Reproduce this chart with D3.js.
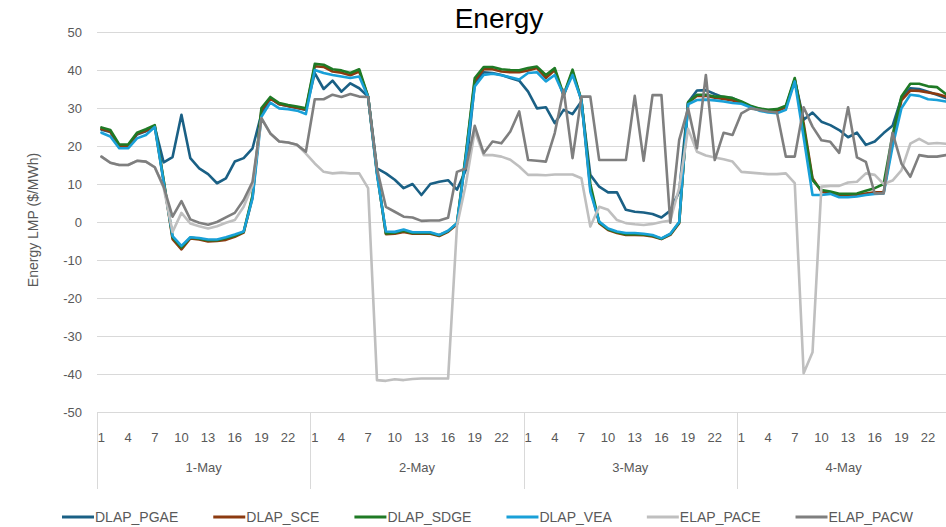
<!DOCTYPE html>
<html>
<head>
<meta charset="utf-8">
<script src="https://cdn.jsdelivr.net/npm/d3@7"></script>
<style>
  html, body { margin: 0; padding: 0; background: #fff; overflow: hidden; }
  svg { display: block; }
</style>
</head>
<body>
<svg id="chart" width="1000" height="527"></svg>
<script>
// ---------------- DATA ----------------
const days = ["1-May", "2-May", "3-May", "4-May"];
const hours = d3.range(1, 25);
const hourLabels = [1, 4, 7, 10, 13, 16, 19, 22];
const yTicks = [-50, -40, -30, -20, -10, 0, 10, 20, 30, 40, 50];
const seriesNames = ["DLAP_PGAE", "DLAP_SCE", "DLAP_SDGE", "DLAP_VEA", "ELAP_PACE", "ELAP_PACW"];
const seriesColors = ["#1a6085", "#8c3a10", "#1f7a25", "#19a0d8", "#bfbfbf", "#7f7f7f"];

const DLAP_PGAE = [
  24.3, 23.7, 19.8, 19.8, 23.0, 23.9, 25.0, 15.7, 17.1, 28.2, 16.8, 14.1, 12.6, 10.2, 11.5, 15.9, 16.8, 19.4, 28.5, 32.5, 31.0, 30.5, 30.0, 29.5,
  39.2, 35.0, 37.2, 34.3, 36.5, 35.2, 33.0, 14.1, 12.8, 11.1, 8.9, 10.0, 7.1, 10.0, 10.6, 11.0, 8.5, 13.7, 36.5, 39.4, 39.2, 38.7, 37.9, 37.2,
  34.3, 29.9, 30.2, 26.0, 29.5, 28.4, 31.7, 12.4, 9.3, 7.8, 7.8, 3.2, 2.7, 2.5, 2.1, 1.2, 3.0, 8.0, 31.5, 34.6, 34.7, 33.7, 32.8, 32.6,
  31.5, 30.4, 29.7, 29.3, 29.3, 30.3, 37.5, 26.9, 28.8, 26.4, 25.5, 24.2, 22.3, 23.5, 20.3, 21.2, 23.4, 25.3, 32.6, 35.2, 35.0, 34.3, 33.5, 32.6
];
const DLAP_SCE = [
  24.5, 23.8, 20.0, 20.0, 23.2, 24.0, 25.2, 10.8, -4.5, -7.2, -4.3, -4.6, -5.1, -5.0, -4.7, -3.9, -2.8, 6.5, 29.5, 32.5, 31.0, 30.5, 30.1, 29.6,
  41.0, 40.8, 39.6, 39.3, 38.6, 39.6, 33.0, 13.0, -3.2, -3.1, -2.6, -3.1, -3.1, -3.1, -3.7, -2.6, -0.6, 17.5, 37.2, 40.2, 40.2, 39.6, 39.4, 39.4,
  39.9, 40.5, 37.9, 40.0, 33.2, 39.6, 32.0, 9.0, -0.3, -2.1, -2.9, -3.4, -3.4, -3.5, -3.8, -4.5, -3.4, -0.3, 31.3, 33.2, 33.2, 32.7, 32.4, 32.0,
  31.4, 30.3, 29.6, 29.2, 29.2, 30.2, 37.4, 26.0, 11.5, 8.0, 7.6, 7.0, 7.0, 7.1, 7.5, 7.8, 7.8, 21.0, 32.0, 34.6, 34.5, 34.1, 33.7, 33.0
];
const DLAP_SDGE = [
  24.9, 24.2, 20.4, 20.4, 23.5, 24.4, 25.5, 11.0, -4.0, -6.7, -4.1, -4.4, -4.8, -4.8, -4.3, -3.6, -2.6, 7.0, 30.0, 32.9, 31.3, 30.8, 30.4, 29.9,
  41.6, 41.4, 40.2, 39.9, 39.2, 40.2, 33.0, 13.0, -3.0, -2.8, -2.3, -2.9, -2.9, -2.9, -3.5, -2.4, -0.3, 18.0, 37.9, 40.8, 40.8, 40.2, 40.0, 39.9,
  40.5, 40.9, 38.7, 40.5, 33.5, 40.1, 32.1, 10.0, -0.1, -1.9, -2.7, -3.2, -3.2, -3.3, -3.6, -4.4, -3.2, -0.1, 31.5, 33.5, 33.5, 33.0, 33.0, 32.6,
  31.7, 30.6, 29.9, 29.5, 29.7, 30.6, 37.9, 25.0, 11.0, 8.4, 8.0, 7.4, 7.4, 7.5, 8.2, 8.9, 10.0, 22.9, 33.0, 36.4, 36.4, 35.7, 35.5, 33.7
];
const DLAP_VEA = [
  23.5, 22.5, 19.4, 19.4, 22.0, 22.9, 25.0, 10.5, -3.7, -6.3, -4.0, -4.2, -4.6, -4.6, -4.0, -3.3, -2.5, 6.2, 27.7, 31.4, 29.9, 29.7, 29.3, 28.4,
  40.0, 39.2, 38.7, 38.3, 37.9, 38.3, 32.9, 12.5, -2.5, -2.6, -2.0, -2.7, -2.7, -2.7, -3.4, -2.3, -0.3, 17.0, 35.7, 38.7, 39.0, 38.6, 38.1, 37.5,
  39.2, 39.4, 37.0, 38.7, 33.5, 38.7, 32.1, 8.0, 0.1, -1.7, -2.5, -2.9, -2.9, -3.1, -3.4, -4.3, -3.1, 0.0, 31.0, 32.1, 32.2, 32.0, 31.7, 31.3,
  31.1, 30.2, 29.3, 28.8, 28.6, 29.5, 37.0, 22.3, 7.1, 7.1, 7.4, 6.5, 6.5, 6.7, 7.1, 7.4, 7.5, 19.8, 29.9, 33.5, 33.2, 32.3, 32.1, 31.7
];
const ELAP_PACE = [
  17.2, 15.6, 15.0, 15.0, 16.1, 15.9, 14.4, 9.0, -2.6, 2.4, -0.4, -1.1, -1.7, -1.1, -0.2, 0.5, 4.0, 9.7, 27.3, 23.3, 21.2, 20.9, 20.3, 18.0,
  15.4, 13.2, 12.8, 13.0, 12.8, 12.8, 8.9, -41.6, -41.8, -41.4, -41.6, -41.3, -41.2, -41.2, -41.2, -41.2, -1.0, 10.0, 24.0, 17.6, 17.6, 17.2, 16.4, 14.6,
  12.4, 12.4, 12.3, 12.5, 12.5, 12.5, 11.5, -1.2, 4.0, 3.2, 0.5, -0.3, -0.6, -0.8, -0.5, 0.0, 0.4, 9.0, 24.5, 18.5, 17.5, 17.0, 16.5, 15.9,
  13.2, 13.0, 12.8, 12.6, 12.6, 12.8, 10.2, -39.8, -34.3, 9.3, 9.5, 9.5, 10.4, 10.6, 12.8, 12.4, 10.0, 10.9, 13.6, 20.6, 21.9, 20.6, 20.8, 20.6
];
const ELAP_PACW = [
  17.2, 15.6, 15.0, 15.0, 16.1, 15.9, 14.4, 9.3, 1.4, 5.5, 0.7, -0.2, -0.7, 0.0, 1.2, 2.4, 5.8, 10.6, 27.3, 23.3, 21.2, 20.9, 20.3, 18.5,
  32.3, 32.3, 33.5, 32.9, 33.7, 33.0, 32.9, 14.0, 4.0, 2.7, 1.4, 1.2, 0.3, 0.4, 0.4, 1.1, 13.2, 14.1, 25.3, 18.1, 21.2, 20.7, 23.8, 29.1,
  16.3, 16.1, 15.9, 23.4, 34.8, 16.8, 33.0, 33.0, 16.3, 16.3, 16.3, 16.3, 33.2, 16.1, 33.4, 33.4, -0.2, 21.6, 29.9, 19.4, 38.7, 16.3, 23.5, 22.9,
  28.6, 29.9, 29.5, 29.1, 28.8, 17.2, 17.2, 30.2, 25.1, 21.5, 21.1, 18.2, 30.2, 17.0, 15.8, 7.5, 7.5, 23.5, 15.4, 11.9, 17.6, 17.2, 17.2, 17.6
];
const seriesValues = [DLAP_PGAE, DLAP_SCE, DLAP_SDGE, DLAP_VEA, ELAP_PACE, ELAP_PACW];

// ---------------- LAYOUT ----------------
const svg = d3.select("#chart");
const plotL = 97, plotR = 950.3, plotT = 32, plotB = 412;
const FONT = "'Liberation Sans', Arial, sans-serif";
const TXT = "#595959";

const cats = [];
days.forEach((d, di) => hours.forEach(h => cats.push({ key: di * 24 + (h - 1), day: d, hour: h })));

const x = d3.scaleBand().domain(cats.map(c => c.key)).range([plotL, plotR]).padding(0);
const y = d3.scaleLinear().domain([-50, 50]).range([plotB, plotT]);
const cx = k => x(k) + x.bandwidth() / 2;

// gridlines
svg.append("g").selectAll("line").data(yTicks).join("line")
  .attr("x1", plotL).attr("x2", plotR)
  .attr("y1", d => Math.round(y(d)) + 0.5).attr("y2", d => Math.round(y(d)) + 0.5)
  .attr("stroke", "#d9d9d9").attr("stroke-width", 1);

// y tick labels
svg.append("g").selectAll("text").data(yTicks).join("text")
  .attr("x", 82).attr("y", d => y(d)).attr("dy", "0.35em")
  .attr("text-anchor", "end").attr("font-family", FONT).attr("font-size", 13)
  .attr("fill", TXT).text(d => d);

// hour labels
svg.append("g").selectAll("text").data(cats.filter(c => hourLabels.includes(c.hour))).join("text")
  .attr("x", c => cx(c.key)).attr("y", 442)
  .attr("text-anchor", "middle").attr("font-family", FONT).attr("font-size", 13)
  .attr("fill", TXT).text(c => c.hour);

// day separators
const dayScale = d3.scaleBand().domain(days).range([plotL, plotR]);
const sepX = days.map(d => dayScale(d)).concat([plotR]);
svg.append("g").selectAll("line").data(sepX).join("line")
  .attr("x1", d => Math.round(d) + 0.5).attr("x2", d => Math.round(d) + 0.5)
  .attr("y1", plotB).attr("y2", 489)
  .attr("stroke", "#d9d9d9").attr("stroke-width", 1);

// day labels
svg.append("g").selectAll("text").data(days).join("text")
  .attr("x", d => dayScale(d) + dayScale.bandwidth() / 2).attr("y", 472)
  .attr("text-anchor", "middle").attr("font-family", FONT).attr("font-size", 13)
  .attr("fill", TXT).text(d => d);

// lines
const line = d3.line().x((v, i) => cx(i)).y(v => y(v));
svg.append("g").selectAll("path").data(seriesValues).join("path")
  .attr("d", d => line(d))
  .attr("fill", "none")
  .attr("stroke", (d, i) => seriesColors[i])
  .attr("stroke-width", 2.6)
  .attr("stroke-linejoin", "round")
  .attr("stroke-linecap", "round");

// title
svg.append("text").attr("x", 499).attr("y", 28).attr("text-anchor", "middle")
  .attr("font-family", FONT).attr("font-size", 28).attr("fill", "#000").text("Energy");

// y-axis title
svg.append("text").attr("transform", "translate(38,220) rotate(-90)")
  .attr("text-anchor", "middle").attr("font-family", FONT).attr("font-size", 14)
  .attr("fill", TXT).text("Energy LMP ($/MWh)");

// legend
const lg = svg.append("g");
let lx = 62;
seriesNames.forEach((name, i) => {
  lg.append("line").attr("x1", lx).attr("x2", lx + 32).attr("y1", 517).attr("y2", 517)
    .attr("stroke", seriesColors[i]).attr("stroke-width", 3);
  const t = lg.append("text").attr("x", lx + 33).attr("y", 517).attr("dy", "0.35em")
    .attr("font-family", FONT).attr("font-size", 14).attr("fill", TXT).text(name);
  lx += 33 + t.node().getComputedTextLength() + 35;
});
</script>
</body>
</html>
